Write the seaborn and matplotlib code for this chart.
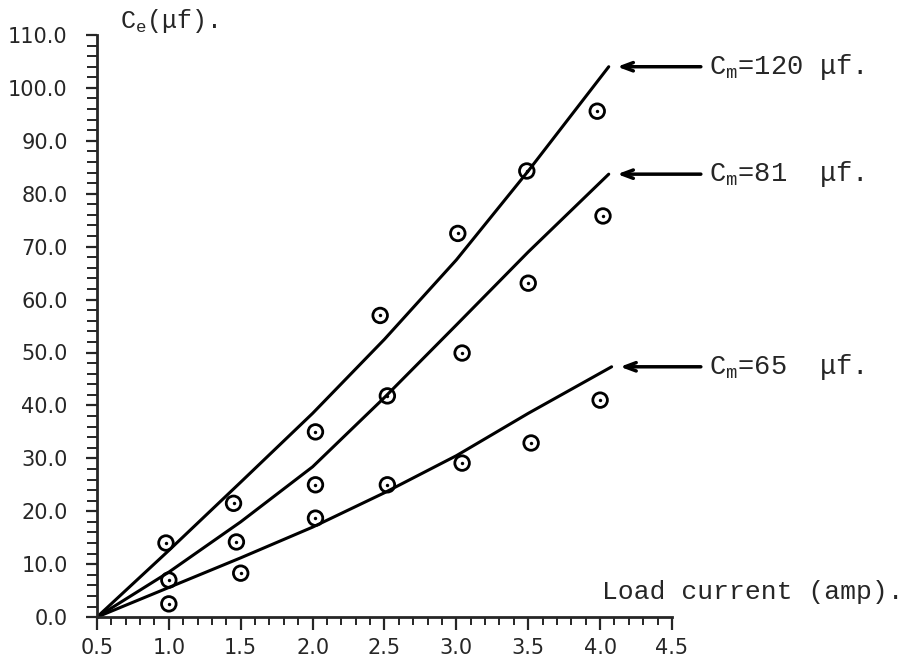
"""Equivalent capacitance vs load current for three values of C_m."""

import matplotlib

matplotlib.use("Agg")
import matplotlib.pyplot as plt
import pandas as pd
import seaborn as sns
from matplotlib.ticker import MultipleLocator

# fitted curves
curve_x = [0.5, 1.0, 1.5, 2.0, 2.5, 3.0, 3.5, 4.06]
curve_120 = [0.0, 12.6, 25.5, 38.5, 52.5, 67.5, 84.3, 104.0]
curve_81 = [0.0, 8.5, 18.0, 28.4, 41.5, 55.2, 69.0, 83.7]
curve_65_x = [0.5, 1.0, 1.5, 2.0, 2.5, 3.0, 3.5, 4.08]
curve_65 = [0.0, 5.6, 11.2, 17.0, 23.5, 30.5, 38.5, 47.3]

# measured points
pts_120_x = [0.98, 1.45, 2.02, 2.47, 3.01, 3.49, 3.98]
pts_120_y = [14.0, 21.5, 35.0, 57.0, 72.5, 84.3, 95.6]
pts_81_x = [1.0, 1.47, 2.02, 2.52, 3.04, 3.50, 4.02]
pts_81_y = [7.0, 14.2, 25.0, 41.8, 49.9, 63.1, 75.8]
pts_65_x = [1.0, 1.50, 2.02, 2.52, 3.04, 3.52, 4.0]
pts_65_y = [2.5, 8.3, 18.7, 25.0, 29.1, 32.9, 41.0]

labels = ["C$_\\mathrm{m}$=120 \u03bcf.", "C$_\\mathrm{m}$=81  \u03bcf.", "C$_\\mathrm{m}$=65  \u03bcf."]

sns.set_style("ticks")
plt.rcParams["font.family"] = ["DejaVu Sans"]
plt.rcParams["mathtext.fontset"] = "custom"
plt.rcParams["mathtext.rm"] = "Liberation Mono"

curves = pd.concat([
    pd.DataFrame({"x": curve_x, "y": curve_120, "cm": "120"}),
    pd.DataFrame({"x": curve_x, "y": curve_81, "cm": "81"}),
    pd.DataFrame({"x": curve_65_x, "y": curve_65, "cm": "65"}),
])
points = pd.DataFrame({
    "x": pts_120_x + pts_81_x + pts_65_x,
    "y": pts_120_y + pts_81_y + pts_65_y,
})

fig = plt.figure(figsize=(9.02, 6.6), dpi=100)
ax = fig.add_axes([0.1075, 0.065, 0.6375, 0.882])

sns.lineplot(data=curves, x="x", y="y", hue="cm", palette=["black"] * 3,
             sort=False, estimator=None, linewidth=2.2, legend=False, ax=ax)
sns.scatterplot(data=points, x="x", y="y", marker="o", s=110, facecolor="none",
                edgecolor="black", linewidth=2.0, ax=ax, zorder=3)
sns.scatterplot(data=points, x="x", y="y", marker="o", s=6, color="black",
                linewidth=0, ax=ax, zorder=3)

ax.set_xlim(0.5, 4.5)
ax.set_ylim(0, 110)
ax.xaxis.set_major_locator(MultipleLocator(0.5))
ax.xaxis.set_minor_locator(MultipleLocator(0.1))
ax.yaxis.set_major_locator(MultipleLocator(10))
ax.yaxis.set_minor_locator(MultipleLocator(2))
ax.xaxis.set_major_formatter(lambda v, p: f"{v:.1f}")
ax.yaxis.set_major_formatter(lambda v, p: f"{v:.1f}")
ax.tick_params(axis="x", which="major", length=9, width=1.6, pad=6, labelsize=15)
ax.tick_params(axis="x", which="minor", length=6, width=1.4)
ax.tick_params(axis="y", which="major", length=8, width=1.6, pad=13, labelsize=15)
ax.tick_params(axis="y", which="minor", length=7, width=1.4)
sns.despine(ax=ax)
for side in ["left", "bottom"]:
    ax.spines[side].set_linewidth(2.0)
ax.set_xlabel("")
ax.set_ylabel("")

mono = "Liberation Mono"
ax.text(0.66, 112.6, "C$_\\mathrm{e}$(\u03bcf).", fontsize=18, family=mono,
        va="center", ha="left", clip_on=False)
ax.text(4.01, 4.8, "Load current (amp).", fontsize=19, family=mono,
        va="center", ha="left", clip_on=False)

ends = [(4.1, curve_120[-1]), (4.1, curve_81[-1]), (4.12, curve_65[-1])]
for (ex, ey), lab in zip(ends, labels):
    ax.annotate("", xy=(ex, ey), xytext=(4.72, ey), annotation_clip=False,
                arrowprops=dict(arrowstyle="->,head_length=0.8,head_width=0.3",
                                color="black", lw=2.5))
    ax.text(4.76, ey, lab, fontsize=19.5, family=mono, va="center", ha="left",
            clip_on=False)

fig.savefig("out.png", dpi=100)
plt.close(fig)
